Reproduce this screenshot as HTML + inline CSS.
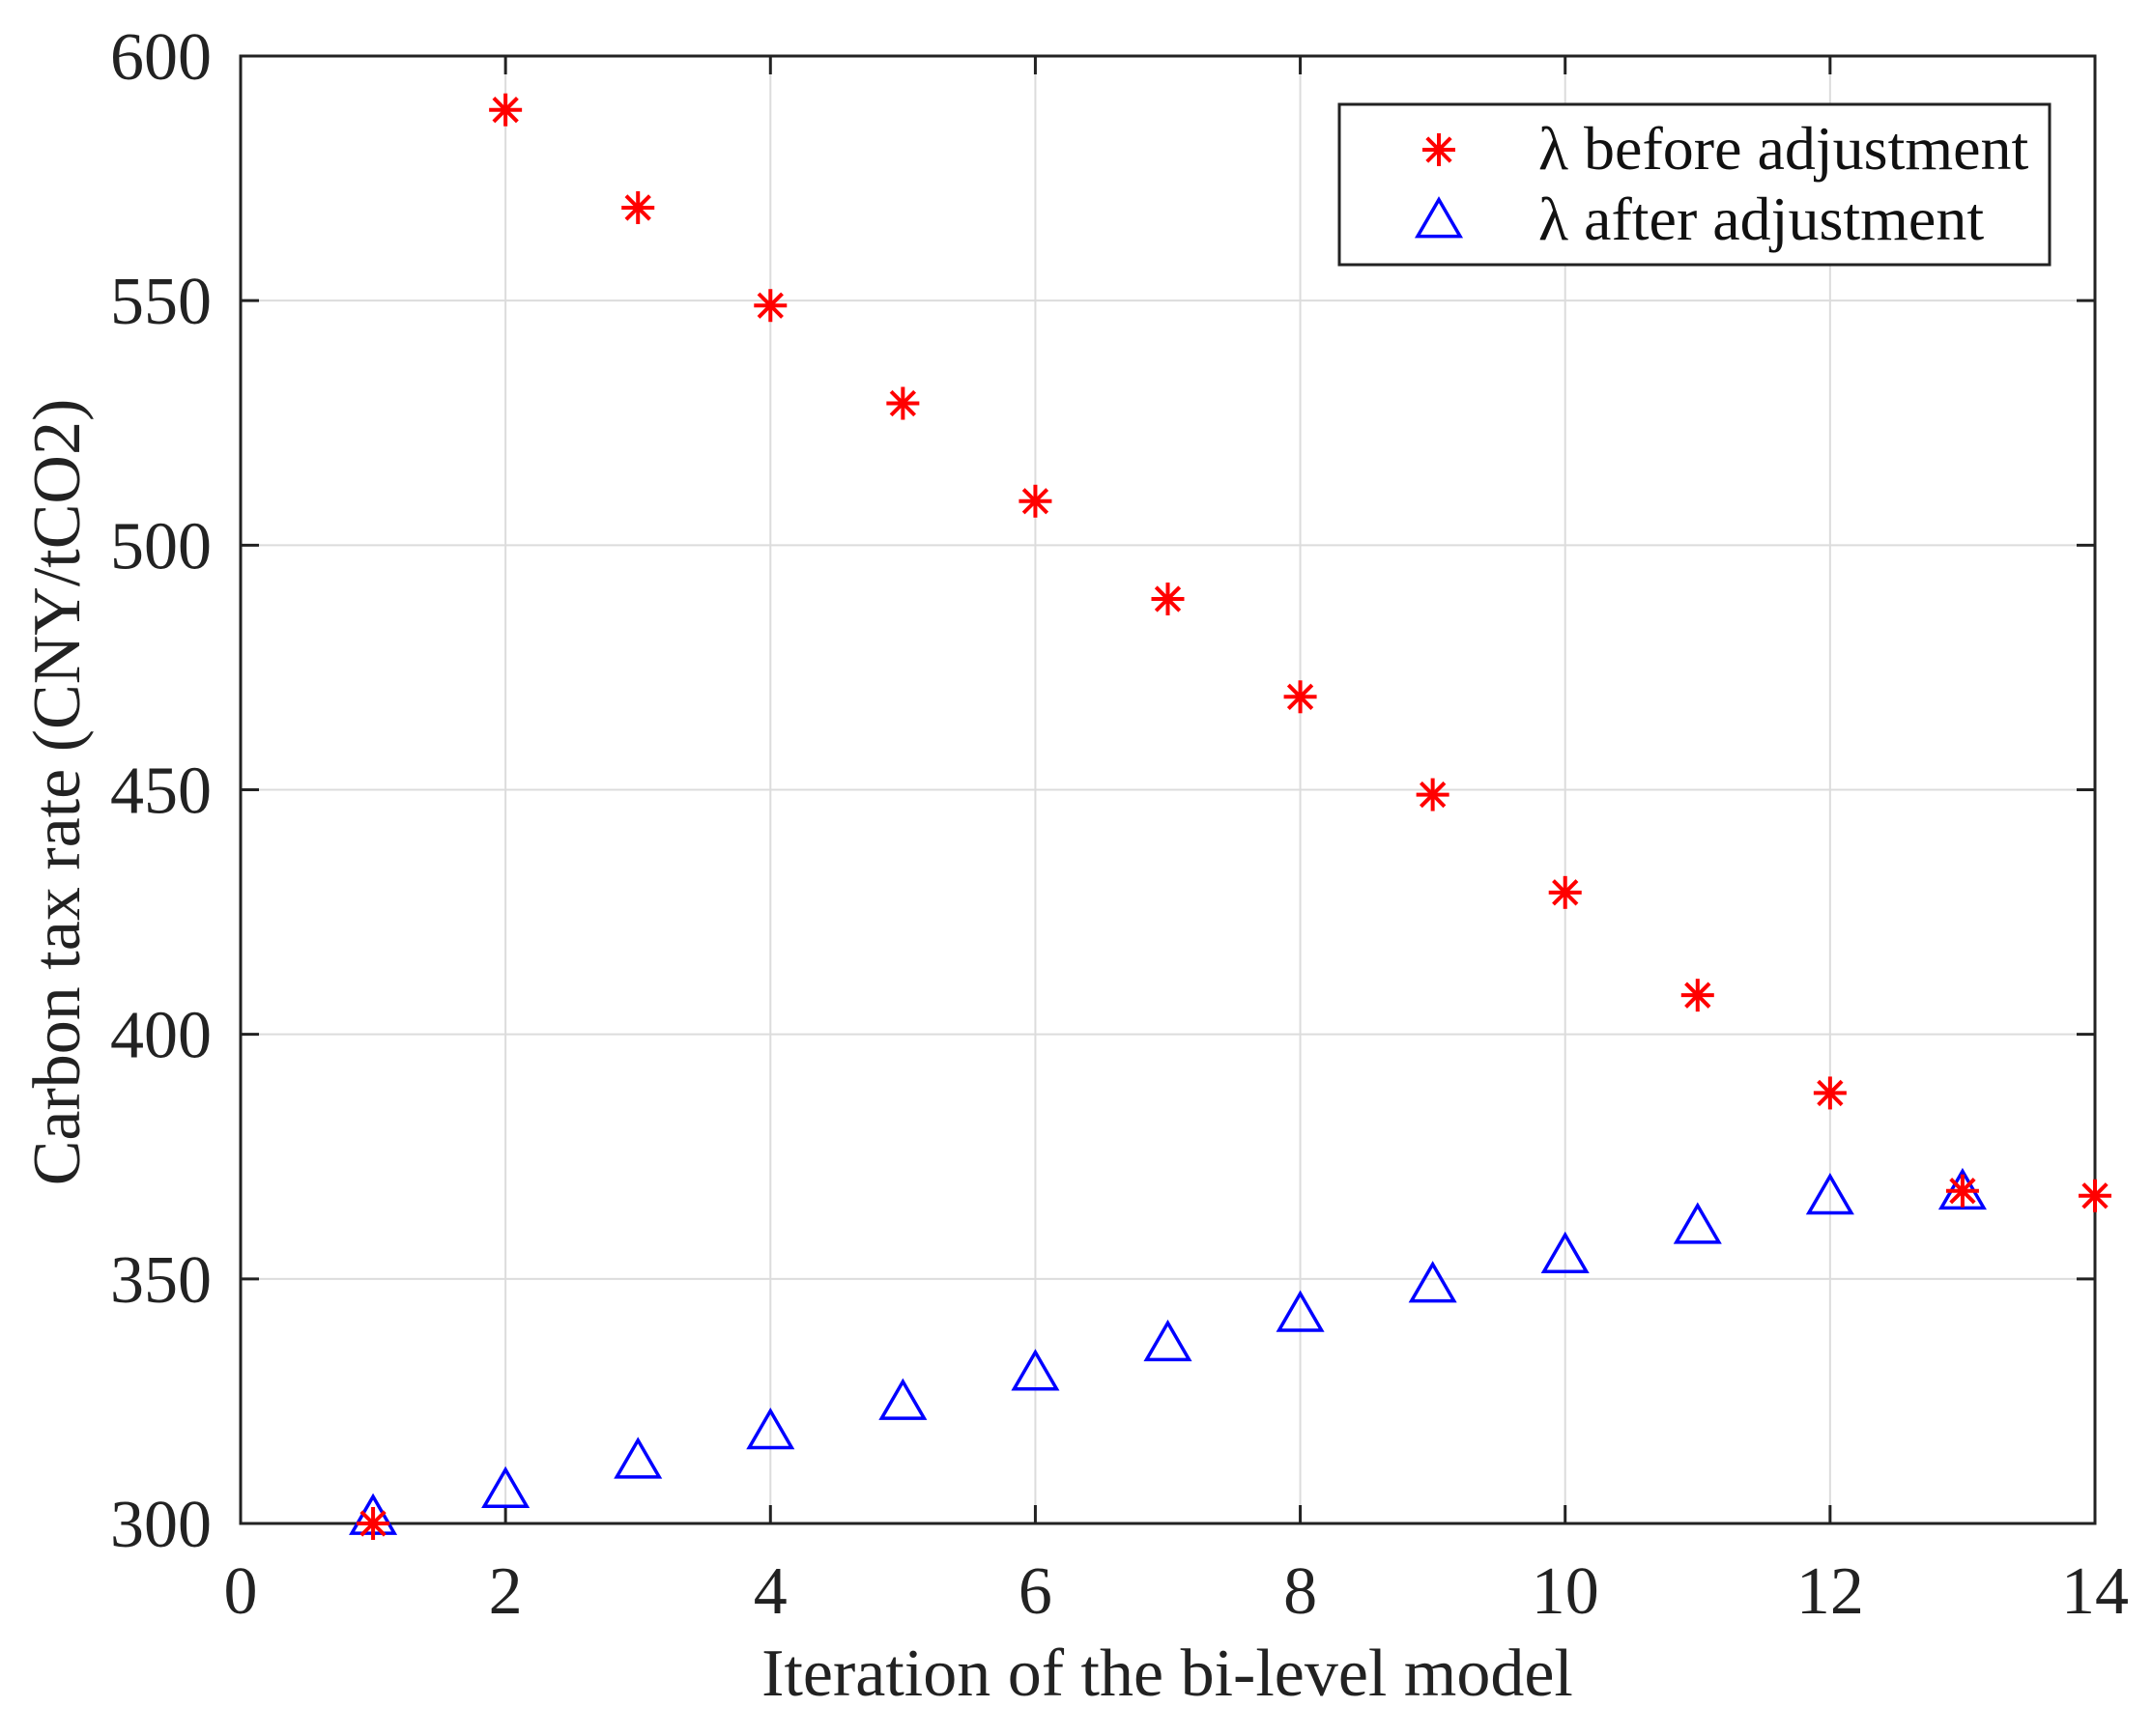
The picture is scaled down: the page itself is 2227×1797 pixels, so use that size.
<!DOCTYPE html>
<html><head><meta charset="utf-8"><style>
html,body{margin:0;padding:0;background:#fff;}
svg{display:block;font-family:"Liberation Serif",serif;}
</style></head><body>
<svg id="chart" width="2227" height="1797" viewBox="0 0 2227 1797" xmlns="http://www.w3.org/2000/svg">
<rect width="2227" height="1797" fill="#fff"/>
<g id="grid"></g>
<g id="axes"></g>
<g id="marks"></g>
<text x="1208" y="1755" font-size="70" text-anchor="middle" fill="#222">Iteration of the bi-level model</text>
<text transform="translate(82,820) rotate(-90)" font-size="70" text-anchor="middle" fill="#222">Carbon tax rate (CNY/tCO2)</text>
<g>
<rect x="1386" y="108" width="735" height="166" fill="#fff" stroke="#222" stroke-width="3"/>
<g id="leg1"></g>
<text x="1592" y="175" font-size="64" fill="#111">λ before adjustment</text>
<g id="leg2"></g>
<text x="1592" y="248" font-size="64" fill="#111">λ after adjustment</text>
</g>
</svg>
<script>
const iterations=[1,2,3,4,5,6,7,8,9,10,11,12,13,14];
const beforeValues=[300,589,569,549,529,509,489,469,449,429,408,388,368,367];
const afterIterations=[1,2,3,4,5,6,7,8,9,10,11,12,13];
const afterValues=[300.5,306,312,318,324,330,336,342,348,354,360,366,367];
const xTicks=[0,2,4,6,8,10,12,14];
const yTicks=[300,350,400,450,500,550,600];

const L=249,R=2168,T=58,B=1577;
const x=v=>L+(v-0)/(14-0)*(R-L);
const y=v=>B-(v-300)/(600-300)*(B-T);
const NS="http://www.w3.org/2000/svg";
function mk(tag,attrs,parent){const e=document.createElementNS(NS,tag);for(const k in attrs)e.setAttribute(k,attrs[k]);parent.appendChild(e);return e;}
const grid=document.getElementById('grid'),axes=document.getElementById('axes'),marks=document.getElementById('marks');
xTicks.forEach(t=>{
  const g=mk('line',{x1:x(t),x2:x(t),y1:T,y2:B,stroke:'#dcdcdc','stroke-width':2},grid);
  
  
  mk('line',{x1:x(t),x2:x(t),y1:B,y2:B-19,stroke:'#222','stroke-width':3},axes);
  mk('line',{x1:x(t),x2:x(t),y1:T,y2:T+19,stroke:'#222','stroke-width':3},axes);
  const lb=mk('text',{x:x(t),y:1670,'font-size':70,'text-anchor':'middle',fill:'#222'},axes);
  lb.textContent=t;
  
  
});
yTicks.forEach(t=>{
  const g=mk('line',{x1:L,x2:R,y1:y(t),y2:y(t),stroke:'#dcdcdc','stroke-width':2},grid);
  
  
  mk('line',{x1:L,x2:L+19,y1:y(t),y2:y(t),stroke:'#222','stroke-width':3},axes);
  mk('line',{x1:R,x2:R-19,y1:y(t),y2:y(t),stroke:'#222','stroke-width':3},axes);
  const lb=mk('text',{x:219,y:y(t)+24,'font-size':70,'text-anchor':'end',fill:'#222'},axes);
  lb.textContent=t;
  
  
});
mk('rect',{x:L,y:T,width:R-L,height:B-T,fill:'none',stroke:'#222','stroke-width':3},axes);

function star(cx,cy,parent){
  const g=mk('g',{stroke:'#f00','stroke-width':4},parent);
  const r=17;
  mk('line',{x1:cx-r,x2:cx+r,y1:cy,y2:cy},g);
  mk('line',{x1:cx,x2:cx,y1:cy-r,y2:cy+r},g);
  const d=r*0.72;
  mk('line',{x1:cx-d,x2:cx+d,y1:cy-d,y2:cy+d},g);
  mk('line',{x1:cx-d,x2:cx+d,y1:cy+d,y2:cy-d},g);
  return g;
}
function tri(cx,cy,parent){
  const h=38,w=44;
  return mk('polygon',{points:`${cx},${cy-h*2/3} ${cx-w/2},${cy+h/3} ${cx+w/2},${cy+h/3}`,fill:'none',stroke:'#00f','stroke-width':3.5},parent);
}
afterIterations.forEach((it,i)=>{
  const p=tri(x(it),y(afterValues[i]),marks);
  
  
});
iterations.forEach((it,i)=>{
  const s=star(x(it),y(beforeValues[i]),marks);
  
  
});
star(1489,155,document.getElementById('leg1'));
tri(1489,232,document.getElementById('leg2'));
</script>
</body></html>
